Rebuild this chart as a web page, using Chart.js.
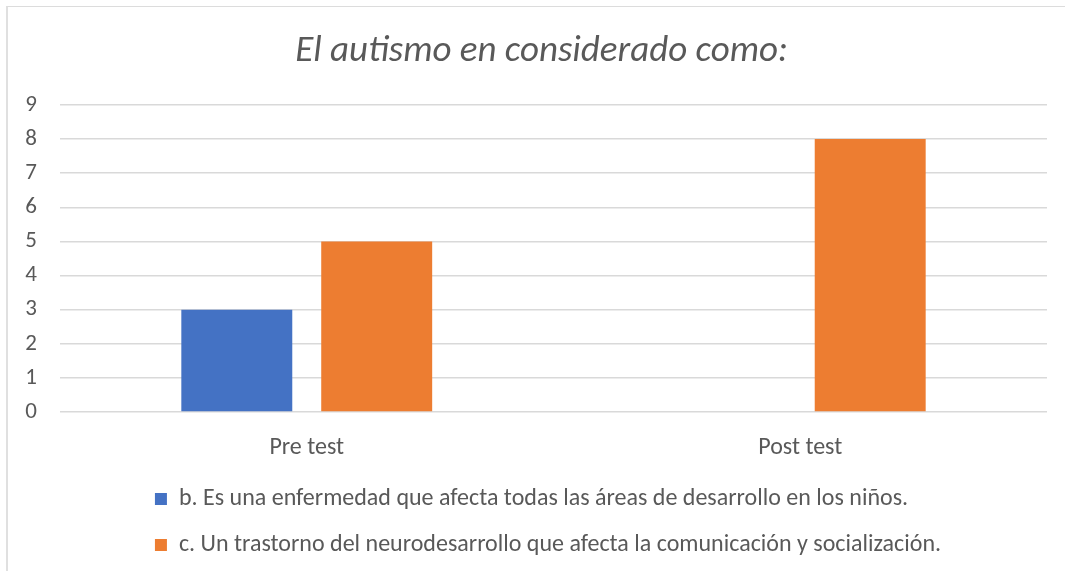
<!DOCTYPE html>
<html><head><meta charset="utf-8">
<script src="https://cdn.jsdelivr.net/npm/chart.js@4.4.1/dist/chart.umd.min.js"></script>
<style>
html,body{margin:0;padding:0;background:#fff;overflow:hidden}
#wrap{position:absolute;left:0;top:0;width:1065px;height:571px}
#frame{position:absolute;left:6px;top:6px;width:1100px;height:600px;border-left:2px solid #e0e0e0;border-top:1.5px solid #dcdcdc;pointer-events:none}
</style>
</head><body>
<div id="wrap"><canvas id="c"></canvas></div>
<div id="frame"></div>
<script>
const titleText = "El autismo en considerado como:";
const categories = ["Pre test", "Post test"];
const seriesNames = [
  "b. Es una enfermedad que afecta todas las áreas de desarrollo en los niños.",
  "c. Un trastorno del neurodesarrollo que afecta la comunicación y socialización."
];
const seriesB = [3, 0];
const seriesC = [5, 8];
const yTickLabels = ["0","1","2","3","4","5","6","7","8","9"];

const FONT = 'Carlito, Calibri, "Liberation Sans Narrow", sans-serif';
const GREY = '#595959';

// keep both legend rows starting at the same x (Excel-like block alignment)
const legendRowAlign = {
  id: 'legendRowAlign',
  beforeDraw(chart) {
    const lg = chart.legend;
    if (!lg || !lg.lineWidths) return;
    const m = Math.max(...lg.lineWidths) - 13;
    for (let i = 0; i < lg.lineWidths.length; i++) lg.lineWidths[i] = m;
  }
};

new Chart(document.getElementById('c'), {
  type: 'bar',
  data: {
    labels: categories,
    datasets: [
      { label: seriesNames[0], data: seriesB, backgroundColor: '#4472C4', borderWidth: 0, yAxisID: 'y' },
      { label: seriesNames[1], data: seriesC, backgroundColor: '#ED7D31', borderWidth: 0, yAxisID: 'y' }
    ]
  },
  options: {
    responsive: true,
    maintainAspectRatio: false,
    animation: false,
    devicePixelRatio: 1,
    layout: { padding: { left: 18, right: 0, top: 0, bottom: 4 } },
    datasets: { bar: { categoryPercentage: 0.567, barPercentage: 0.793 } },
    plugins: {
      tooltip: { enabled: false },
      title: {
        display: true,
        text: titleText,
        color: GREY,
        font: { family: FONT, size: 37, style: 'italic', weight: 'normal', lineHeight: 1.2 },
        padding: { top: 30, bottom: 30.6 }
      },
      legend: {
        display: true,
        position: 'bottom',
        align: 'center',
        labels: {
          color: GREY,
          font: { family: FONT, size: 24 },
          boxWidth: 12,
          boxHeight: 12,
          padding: 22
        }
      }
    },
    scales: {
      x: {
        grid: { display: false, drawTicks: false },
        border: { display: false },
        ticks: { color: GREY, font: { family: FONT, size: 24 }, padding: 22 },
        afterFit(s) { s.height = 53; }
      },
      y: {
        min: 0,
        max: 9,
        grid: { color: '#d9d9d9', lineWidth: 1.5, drawTicks: false },
        border: { display: false },
        ticks: {
          stepSize: 1,
          color: GREY,
          font: { family: FONT, size: 23 },
          padding: 23,
          callback: (v) => yTickLabels[v] ?? ''
        },
        afterFit(s) { s.width = 42; }
      },
      yR: {
        type: 'linear',
        position: 'right',
        display: true,
        grid: { display: false, drawTicks: false },
        border: { display: false },
        ticks: { display: false },
        afterFit(s) { s.width = 18; }
      }
    }
  },
  plugins: [legendRowAlign]
});
</script>
</body></html>
